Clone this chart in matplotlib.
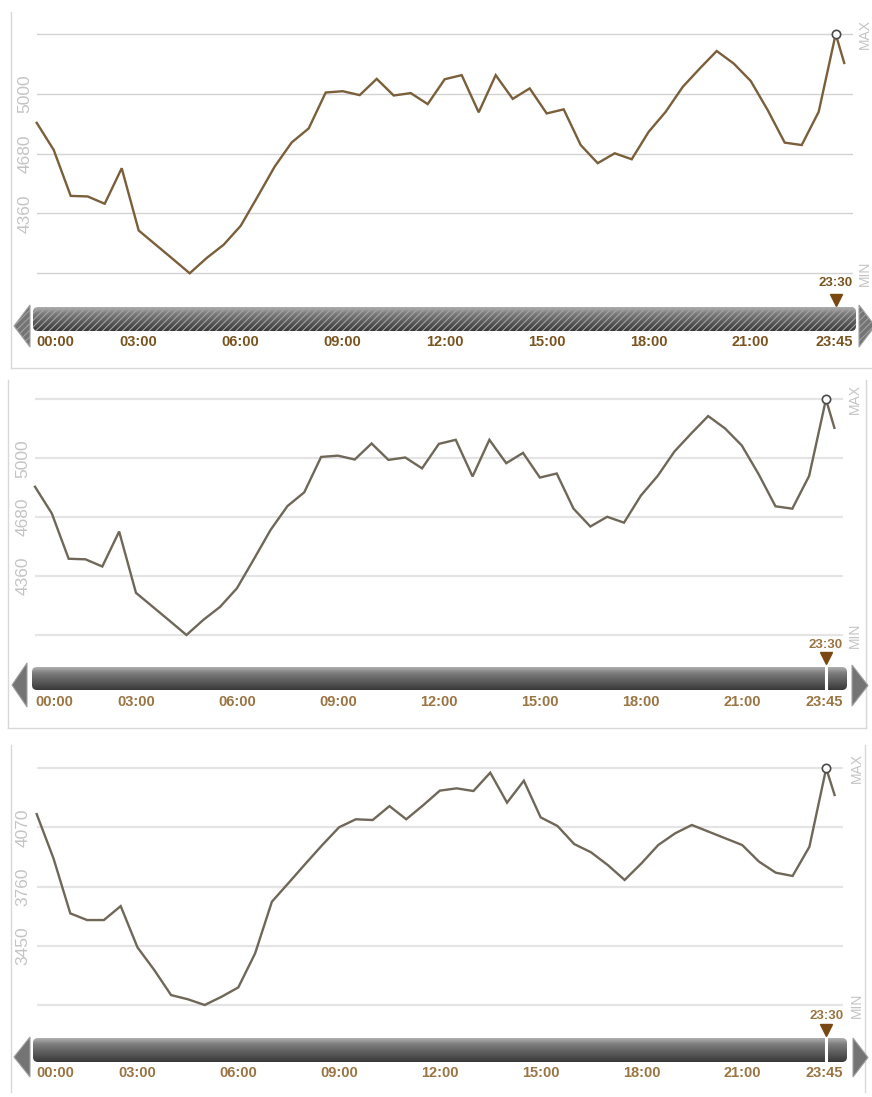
import numpy as np
import matplotlib
matplotlib.use("Agg")
import matplotlib.pyplot as plt
from matplotlib import transforms
from matplotlib.patches import FancyBboxPatch, Polygon
from matplotlib.colors import LinearSegmentedColormap

plt.rcParams['font.family'] = ['Liberation Sans', 'DejaVu Sans']
plt.rcParams['hatch.linewidth'] = 0.8

W, H = 872, 1097

# ---------------- data ----------------
hours = [i * 0.5 for i in range(48)] + [23.75]

load_a = [4845, 4700, 4454, 4451, 4412, 4602, 4269, 4193, 4117, 4040,
          4122, 4193, 4294, 4451, 4611, 4740, 4815, 5007, 5014, 4993,
          5080, 4991, 5004, 4945, 5078, 5100, 4901, 5100, 4973, 5029,
          4895, 4917, 4726, 4629, 4682, 4650, 4797, 4904, 5037, 5135,
          5229, 5162, 5069, 4913, 4739, 4726, 4904, 5320, 5165]

load_c = [4140, 3908, 3620, 3585, 3585, 3658, 3442, 3323, 3192, 3170,
          3140, 3183, 3232, 3410, 3681, 3780, 3880, 3978, 4071, 4113,
          4109, 4182, 4113, 4186, 4263, 4275, 4261, 4357, 4200, 4315,
          4123, 4078, 3983, 3940, 3873, 3795, 3882, 3978, 4039, 4083,
          4048, 4013, 3978, 3891, 3833, 3816, 3969, 4380, 4240]

tick_hours = [0, 3, 6, 9, 12, 15, 18, 21, 24]
tick_labels = ['00:00', '03:00', '06:00', '09:00', '12:00', '15:00',
               '18:00', '21:00', '23:45']
marker_hour = 23.5
marker_label = '23:30'

panel_series = [load_a, load_a, load_c]
panel_min = [4040, 4040, 3140]
panel_step = [320, 320, 310]

# ---------------- layout (pixels) ----------------
layouts = [
    dict(x0=36.7, x24=852.7, ymax=34.0, ymin=273.3, bar=(33, 307, 856, 331),
         lab_y=342, tri_y=300, cur_y=283, ylab_x=25, mm_x=865,
         larrow=(14, 30, 305, 347), rarrow=(859, 875, 305, 347),
         hatched=True, line='#7a5f3a', grid='#d2d2d2', glw=1.0,
         tick_col='#7a5420', border=[((10.5, 12), (10.5, 368)), ((10.5, 368), (872, 368))]),
    dict(x0=35.0, x24=842.8, ymax=399.3, ymin=635.0, bar=(32, 667, 847, 690),
         lab_y=702, tri_y=658, cur_y=645, ylab_x=23, mm_x=855,
         larrow=(12, 27, 663, 707), rarrow=(852, 868, 665, 706),
         hatched=False, line='#6f6758', grid='#e4e4e4', glw=1.6,
         tick_col='#9a7442', border=[((8, 380), (8, 728)), ((8, 728), (866, 728)),
                                     ((866, 380), (866, 728))]),
    dict(x0=36.7, x24=843.0, ymax=768.3, ymin=1005.0, bar=(33, 1038, 847, 1062),
         lab_y=1073, tri_y=1030, cur_y=1016, ylab_x=23, mm_x=857,
         larrow=(14, 30, 1037, 1077), rarrow=(853, 868, 1038, 1077),
         hatched=False, line='#6f6758', grid='#e4e4e4', glw=1.6,
         tick_col='#9a7442', border=[((10.7, 745), (10.7, 1092)),
                                     ((865, 745), (865, 1092))]),
]

fig = plt.figure(figsize=(W / 100, H / 100), dpi=100)
px2fig = transforms.Affine2D().scale(1 / W, -1 / H).translate(0, 1) + fig.transFigure

bg = fig.add_axes([0, 0, 1, 1], zorder=0)
bg.set_autoscale_on(False)
bg.set_xlim(0, W)
bg.set_ylim(H, 0)
bg.axis('off')

grad = np.linspace(0, 1, 64)[:, None]
cm_bar = LinearSegmentedColormap.from_list(
    'bar', ['#b0b0b0', '#7e7e7e', '#666666', '#505050', '#383838'])

for L, vals, vmin, step in zip(layouts, panel_series, panel_min, panel_step):
    vmax = vmin + 4 * step
    k = (vmax - vmin) / (L['ymin'] - L['ymax'])
    m = 4
    top = L['ymax'] - m
    bot = L['ymin'] + m
    ax = fig.add_axes([L['x0'] / W, 1 - bot / H, (L['x24'] - L['x0']) / W, (bot - top) / H],
                      zorder=2)
    ax.patch.set_alpha(0)
    ax.set_xlim(0, 24)
    ax.set_ylim(vmin - m * k, vmax + m * k)
    for s in ax.spines.values():
        s.set_visible(False)

    levels = [vmin + i * step for i in range(5)]
    ax.set_yticks(levels, [''] + [str(v) for v in levels[1:4]] + [''])
    ax.grid(axis='y', color=L['grid'], lw=L['glw'])
    ax.set_axisbelow(True)
    ax.tick_params(axis='y', length=0, pad=(L['x0'] - L['ylab_x']) * 0.72,
                   labelcolor='#c4c4c4', labelsize=12.5)
    for lab in ax.get_yticklabels():
        lab.set_rotation(90)
        lab.set_ha('center')
        lab.set_va('center')

    ax.set_xticks(tick_hours, tick_labels)
    ax.tick_params(axis='x', length=0, pad=(L['lab_y'] - bot) * 0.72,
                   labelcolor=L['tick_col'], labelsize=10.5)
    xl = ax.get_xticklabels()
    for i, lab in enumerate(xl):
        lab.set_fontweight('bold')
        lab.set_va('center')
        lab.set_ha('left' if i == 0 else ('right' if i == len(xl) - 1 else 'center'))

    # series line
    ax.plot(hours, vals, color=L['line'], lw=1.7, solid_joinstyle='miter', zorder=3,
            clip_on=False)
    mi = hours.index(marker_hour)
    ax.plot(marker_hour, vals[mi], 'o', mfc='white', mec='#4a4a4a', ms=6, mew=1.2,
            zorder=4, clip_on=False)

    # MAX / MIN labels
    ty = transforms.blended_transform_factory(px2fig, ax.transData)
    ax.text(L['mm_x'], vmax, 'MAX', transform=ty, rotation=90, ha='center', va='center',
            color='#c4c4c4', fontsize=10)
    ax.text(L['mm_x'], vmin, 'MIN', transform=ty, rotation=90, ha='center', va='center',
            color='#c4c4c4', fontsize=10)

    # scrollbar in pixel coords
    bl, bt, br, bb = L['bar']
    bar = FancyBboxPatch((bl, bt), br - bl, bb - bt, boxstyle='round,pad=0,rounding_size=5',
                         fc='none', ec='none')
    bg.add_patch(bar)
    im = bg.imshow(grad, cmap=cm_bar, extent=(bl, br, bb, bt), origin='upper',
                   aspect='auto', zorder=1, interpolation='bilinear')
    im.set_clip_path(bar)
    if L['hatched']:
        hb = FancyBboxPatch((bl, bt), br - bl, bb - bt, boxstyle='round,pad=0,rounding_size=5',
                            fc='none', ec='#a4a4a4', lw=0, hatch='/////', zorder=2)
        bg.add_patch(hb)

    # arrows
    for (xa, xb, ya, yb), tip_left in ((L['larrow'], True), (L['rarrow'], False)):
        ym = (ya + yb) / 2
        if tip_left:
            pts = [(xa, ym), (xb, ya), (xb, yb)]
        else:
            pts = [(xb, ym), (xa, ya), (xa, yb)]
        bg.add_patch(Polygon(pts, closed=True, fc='#747474', ec='#a0a0a0', lw=0.8, zorder=2,
                             hatch='/////' if L['hatched'] else None))

    # borders
    for (p, q) in L['border']:
        bg.plot([p[0], q[0]], [p[1], q[1]], color='#d8d8d8', lw=1.0, zorder=0)

    # current-time marker
    tx = transforms.blended_transform_factory(ax.transData, px2fig)
    if not L['hatched']:
        ax.plot([marker_hour, marker_hour], [bt, bb], transform=tx, color='white', lw=2.2,
                zorder=5, clip_on=False)
    ax.plot(marker_hour, L['tri_y'], 'v', transform=tx, color='#7a4810', ms=8,
            zorder=5, clip_on=False)
    ax.text(marker_hour, L['cur_y'], marker_label, transform=tx, ha='center', va='center',
            color=L['tick_col'], fontsize=9.5, fontweight='bold')

fig.savefig('out.png', dpi=100)
